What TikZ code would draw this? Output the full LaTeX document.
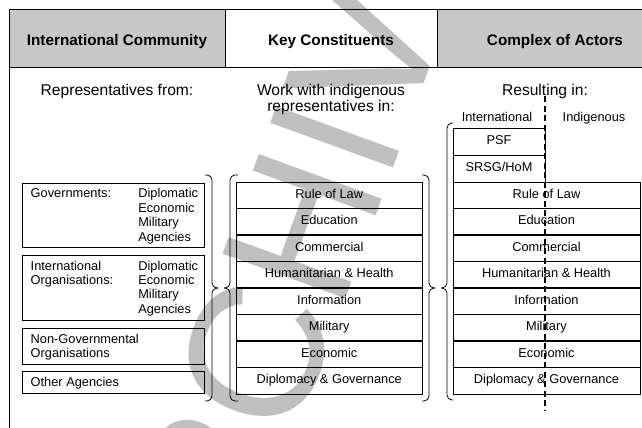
\documentclass[tikz,border=0pt]{standalone}
\usepackage{fontspec}
\setmainfont{Liberation Sans}
\newfontfamily\wmfont{Liberation Sans}
\definecolor{hdrgray}{gray}{0.78}
\definecolor{wmgray}{gray}{0.75}
\begin{document}
\begin{tikzpicture}[x=1pt,y=-1pt,
  every node/.style={inner sep=0pt, outer sep=0pt},
  hdr/.style={font=\fontsize{15.3}{18}\selectfont\bfseries, anchor=base},
  sub/.style={font=\fontsize{15.6}{16}\selectfont, anchor=base},
  txt/.style={font=\fontsize{12.8}{14.6}\selectfont},
  lbl/.style={txt, anchor=base west},
  rowm/.style={draw, line width=0.8pt, anchor=north west, minimum width=186.5pt,
    minimum height=26.5pt, txt, text height=9.2pt, text depth=2.8pt},
  rowr/.style={rowm, minimum width=187pt},
  small/.style={rowm, minimum width=92pt, minimum height=27pt},
  lbox/.style={draw, line width=0.8pt, anchor=north west, minimum width=181.3pt},
  brace/.style={line width=0.8pt, rounded corners=5pt},
  sep/.style={line width=1.8pt}]
\useasboundingbox (0,0) rectangle (642,428);
% watermark
\begin{scope}[shift={(203,690)}, rotate=70, transform shape]
\node[anchor=base west, text=wmgray, font=\wmfont\fontsize{190}{190}\selectfont] (wm) at (0,0) {ARCHIVED};
\end{scope}
% header
\fill[hdrgray] (9.5,9.3) rectangle (225,67);
\fill[hdrgray] (437,9.3) rectangle (645,67);
\draw[line width=0.8pt] (645,9.3) -- (9.5,9.3) -- (9.5,430);
\draw[line width=0.8pt] (9.5,67) -- (645,67);
\draw[line width=0.8pt] (225,9.3) -- (225,67);
\draw[line width=0.8pt] (437,9.3) -- (437,67);
\node[hdr] (h1) at (117,46) {International Community};
\node[hdr] (h2) at (331,46) {Key Constituents};
\node[hdr] (h3) at (555,46) {Complex of Actors};
% sub headings
\node[sub] (s1) at (117,95.5) {Representatives from:};
\node[sub] (s2a) at (331,95.5) {Work with indigenous};
\node[sub] (s2b) at (331,111.5) {representatives in:};
\node[sub] (s3) at (545,95.5) {Resulting in:};
\node[txt, anchor=base] (intl) at (497,121.5) {International};
\node[txt, anchor=base] (indg) at (594,121.5) {Indigenous};
% left boxes
\node[lbox, minimum height=64pt] (gov) at (22.7,183.3) {};
\node[lbl] (govl) at (30.7,197.6) {Governments:};
\node[lbl] (gov1) at (138.3,197.6) {Diplomatic};
\node[lbl] (gov2) at (138.3,212.2) {Economic};
\node[lbl] (gov3) at (138.3,226.8) {Military};
\node[lbl] (gov4) at (138.3,241.4) {Agencies};
\node[lbox, minimum height=65.7pt] (io) at (22.7,255) {};
\node[lbl] (iol1) at (30.7,270.2) {International};
\node[lbl] (iol2) at (30.7,284.0) {Organisations:};
\node[lbl] (io1) at (138.3,270.2) {Diplomatic};
\node[lbl] (io2) at (138.3,284.0) {Economic};
\node[lbl] (io3) at (138.3,298.8) {Military};
\node[lbl] (io4) at (138.3,313.6) {Agencies};
\node[lbox, minimum height=36pt] (ngo) at (22.7,328.3) {};
\node[lbl] (ngo1) at (30.7,343.8) {Non-Governmental};
\node[lbl] (ngo2) at (30.7,357.2) {Organisations};
\node[lbox, minimum height=21.6pt] (oth) at (22.7,371.7) {};
\node[lbl] (oth1) at (30.7,386.8) {Other Agencies};
% braces
\draw[brace] (205,175) -- (212,175) -- (212,288) -- (218,288);
\draw[brace] (218,288) -- (212,288) -- (212,401) -- (205,401);
\draw[brace] (238,175) -- (230,175) -- (230,288) -- (224,288);
\draw[brace] (224,288) -- (230,288) -- (230,401) -- (238,401);
\draw[brace] (422,175) -- (429,175) -- (429,288) -- (435,288);
\draw[brace] (435,288) -- (429,288) -- (429,401) -- (422,401);
\draw[brace] (453,123) -- (447,123) -- (447,288) -- (441,288);
\draw[brace] (441,288) -- (447,288) -- (447,400) -- (453,400);
% middle column
\node[rowm] (m1) at (236,182) {Rule of Law};
\node[rowm] (m2) at (236,208.5) {Education};
\node[rowm] (m3) at (236,235) {Commercial};
\node[rowm] (m4) at (236,261.5) {Humanitarian \& Health};
\node[rowm] (m5) at (236,288) {Information};
\node[rowm] (m6) at (236,314.5) {Military};
\node[rowm] (m7) at (236,341) {Economic};
\node[rowm] (m8) at (236,367.5) {Diplomacy \& Governance};
% right column
\node[small] (psf) at (453,128) {PSF};
\node[small] (srsg) at (453,155) {SRSG/HoM};
\node[rowr] (r1) at (453,182) {Rule of Law};
\node[rowr] (r2) at (453,208.5) {Education};
\node[rowr] (r3) at (453,235) {Commercial};
\node[rowr] (r4) at (453,261.5) {Humanitarian \& Health};
\node[rowr] (r5) at (453,288) {Information};
\node[rowr] (r6) at (453,314.5) {Military};
\node[rowr] (r7) at (453,341) {Economic};
\node[rowr] (r8) at (453,367.5) {Diplomacy \& Governance};
\foreach \n in {m2,m4,m6,r2,r4,r6}
  \draw[sep] (\n.south west) -- (\n.south east);
% dashed divider
\coordinate (dtop) at (545,96);
\coordinate (dbot) at (545,411);
\draw[line width=1.5pt, dash pattern=on 6pt off 3.5pt] (dtop) -- (dbot);
\end{tikzpicture}
\end{document}
